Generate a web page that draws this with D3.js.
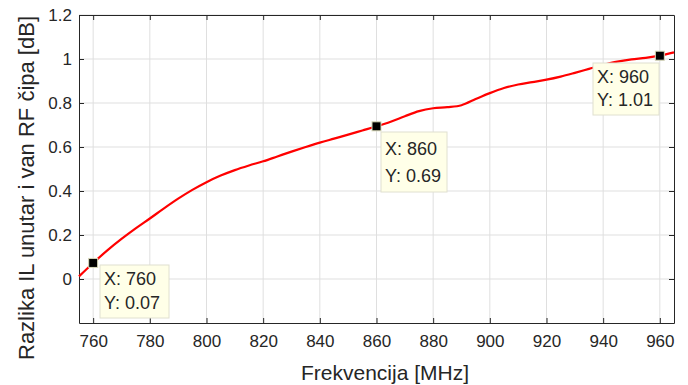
<!DOCTYPE html>
<html>
<head>
<meta charset="utf-8">
<script src="https://cdn.jsdelivr.net/npm/d3@7"></script>
<style>
  body { margin: 0; background: #fff; }
  text { font-family: "Liberation Sans", Arial, sans-serif; fill: #262626; }
  .grid line { stroke: #dfdfdf; stroke-width: 1; }
</style>
</head>
<body>
<div class="container"></div>
<script>
const WIDTH = 688;
const HEIGHT = 385;
const LEFT = 79, RIGHT = 674, TOP = 15, BOTTOM = 323;

// frequency [MHz] and IL difference [dB]
var freqs = [755, 760, 765, 770, 775, 780, 785, 790, 795, 800, 805, 810, 815, 820, 825, 830, 835, 840, 845, 850,
             855, 860, 865, 870, 875, 880, 885, 890, 895, 900, 905, 910, 915, 920, 925, 930, 935, 940, 945, 950,
             955, 960, 965];
var ilDiff = [0.012, 0.073, 0.13, 0.182, 0.23, 0.275, 0.321, 0.365, 0.405, 0.44, 0.47, 0.495, 0.516, 0.535, 0.557, 0.579, 0.60, 0.62, 0.638, 0.656,
              0.675, 0.694, 0.715, 0.74, 0.763, 0.776, 0.781, 0.79, 0.818, 0.845, 0.868, 0.884, 0.895, 0.906, 0.92, 0.937, 0.955, 0.973, 0.988, 0.998,
              1.005, 1.015, 1.03];
var xTicks = [760, 780, 800, 820, 840, 860, 880, 900, 920, 940, 960];
var yTicks = [0, 0.2, 0.4, 0.6, 0.8, 1, 1.2];
var tipFreqs = [760, 860, 960];
var tipLabels = [["X: 760", "Y: 0.07"], ["X: 860", "Y: 0.69"], ["X: 960", "Y: 1.01"]];

var svg = d3.select(".container").append("svg")
    .attr("width", WIDTH)
    .attr("height", HEIGHT);

var x = d3.scaleLinear().domain([755, 965]).range([LEFT, RIGHT]);
var y = d3.scaleLinear().domain([-0.2, 1.2]).range([BOTTOM, TOP]);

// grid
var grid = svg.append("g").attr("class", "grid");
grid.selectAll(".gx").data(xTicks).enter().append("line")
    .attr("x1", d => x(d)).attr("x2", d => x(d))
    .attr("y1", TOP).attr("y2", BOTTOM);
grid.selectAll(".gy").data(yTicks).enter().append("line")
    .attr("x1", LEFT).attr("x2", RIGHT)
    .attr("y1", d => y(d)).attr("y2", d => y(d));

// axes (MATLAB style: box, inward ticks)
var fmt = d => d3.format("")(d);
function styleAxis(g) {
    g.select(".domain").attr("stroke", "#262626");
    g.selectAll(".tick line").attr("stroke", "#262626");
    g.selectAll(".tick text").style("font-size", "17px").attr("fill", "#262626");
}
svg.append("g").attr("transform", "translate(0," + BOTTOM + ")")
    .call(d3.axisBottom(x).tickValues(xTicks).tickSizeInner(-5).tickSizeOuter(0).tickPadding(12).tickFormat(fmt))
    .call(styleAxis);
svg.append("g").attr("transform", "translate(0," + TOP + ")")
    .call(d3.axisTop(x).tickValues(xTicks).tickSizeInner(-5).tickSizeOuter(0).tickFormat(""))
    .call(styleAxis);
svg.append("g").attr("transform", "translate(" + LEFT + ",0)")
    .call(d3.axisLeft(y).tickValues(yTicks).tickSizeInner(-5).tickSizeOuter(0).tickPadding(7).tickFormat(fmt))
    .call(styleAxis);
svg.append("g").attr("transform", "translate(" + RIGHT + ",0)")
    .call(d3.axisRight(y).tickValues(yTicks).tickSizeInner(-5).tickSizeOuter(0).tickFormat(""))
    .call(styleAxis);

// curve
var pts = freqs.map((f, i) => [f, ilDiff[i]]);
svg.append("path")
    .datum(pts)
    .attr("fill", "none")
    .attr("stroke", "#ff0000")
    .attr("stroke-width", 2.2)
    .attr("d", d3.line().x(d => x(d[0])).y(d => y(d[1])).curve(d3.curveMonotoneX));

// data tips
var tipBoxes = [[100, 265, 69, 53], [381, 132, 66, 60], [593, 63, 66, 52]];
tipFreqs.forEach(function(f, i) {
    var v = ilDiff[freqs.indexOf(f)];
    var b = tipBoxes[i];
    var g = svg.append("g");
    g.append("rect")
        .attr("x", b[0]).attr("y", b[1]).attr("width", b[2]).attr("height", b[3])
        .attr("fill", "#ffffe8").attr("stroke", "#e0e0d0").attr("stroke-width", 1);
    g.append("text").attr("x", b[0] + 4).attr("y", b[1] + b[3] * 0.38)
        .style("font-size", "18px").text(tipLabels[i][0]);
    g.append("text").attr("x", b[0] + 4).attr("y", b[1] + b[3] * 0.83)
        .style("font-size", "18px").text(tipLabels[i][1]);
    svg.append("rect")
        .attr("x", x(f) - 4.5).attr("y", y(v) - 4.5)
        .attr("width", 9).attr("height", 9)
        .attr("fill", "#000").attr("stroke", "#d8d8b8").attr("stroke-width", 1);
});

// axis titles
svg.append("text")
    .attr("x", 385).attr("y", 380)
    .attr("text-anchor", "middle")
    .style("font-size", "21px")
    .text("Frekvencija [MHz]");
svg.append("text")
    .attr("transform", "translate(34,188) rotate(-90)")
    .attr("text-anchor", "middle")
    .style("font-size", "22px")
    .text("Razlika IL unutar i van RF čipa [dB]");
</script>
</body>
</html>
